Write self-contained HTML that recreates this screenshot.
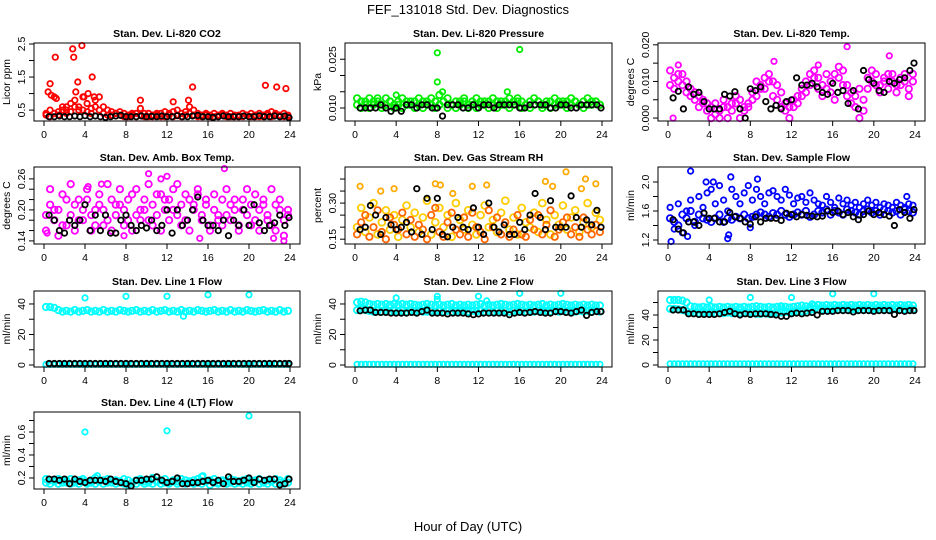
<!DOCTYPE html>
<html><head><meta charset="utf-8"><style>
html,body{margin:0;padding:0;background:#fff;}
svg{display:block;font-family:"Liberation Sans",Arial,sans-serif;}
</style></head><body>
<svg id="chart" width="936" height="540" viewBox="0 0 936 540" xmlns="http://www.w3.org/2000/svg">
<text x="468" y="14" font-size="13" text-anchor="middle">FEF_131018  Std. Dev. Diagnostics</text>
<text x="468" y="531" font-size="13" text-anchor="middle">Hour of Day (UTC)</text>
</svg>
<script>
const hrs=[0.2,0.6,1.0,1.4,1.8,2.2,2.6,3.0,3.4,3.8,4.2,4.6,5.0,5.4,5.8,6.2,6.6,7.0,7.4,7.8,8.2,8.6,9.0,9.4,9.8,10.2,10.6,11.0,11.4,11.8,12.2,12.6,13.0,13.4,13.8,14.2,14.6,15.0,15.4,15.8,16.2,16.6,17.0,17.4,17.8,18.2,18.6,19.0,19.4,19.8,20.2,20.6,21.0,21.4,21.8,22.2,22.6,23.0,23.4,23.8];
const hrsK=[0.5,1,1.5,2,2.5,3,3.5,4,4.5,5,5.5,6,6.5,7,7.5,8,8.5,9,9.5,10,10.5,11,11.5,12,12.5,13,13.5,14,14.5,15,15.5,16,16.5,17,17.5,18,18.5,19,19.5,20,20.5,21,21.5,22,22.5,23,23.5,23.9];
const xTicks=[0,4,8,12,16,20,24];

const co2A=[0.4,0.5,0.9,0.45,0.6,0.5,0.7,0.8,0.6,0.9,0.7,0.55,0.8,0.9,0.6,0.5,0.45,0.4,0.45,0.4,0.35,0.4,0.4,0.55,0.4,0.4,0.35,0.4,0.4,0.45,0.4,0.45,0.5,0.4,0.45,0.6,0.5,0.4,0.35,0.4,0.35,0.4,0.35,0.4,0.35,0.4,0.35,0.35,0.4,0.35,0.4,0.35,0.4,0.35,0.4,0.45,0.4,0.35,0.4,0.35];
const co2B=[0.35,0.3,0.4,0.35,0.5,0.4,0.45,0.6,0.5,0.5,0.45,0.4,0.6,0.5,0.4,0.35,0.35,0.4,0.35,0.3,0.3,0.35,0.3,0.35,0.3,0.3,0.3,0.35,0.3,0.3,0.35,0.3,0.35,0.3,0.35,0.4,0.35,0.3,0.3,0.35,0.3,0.3,0.3,0.35,0.3,0.3,0.3,0.3,0.3,0.35,0.3,0.3,0.3,0.3,0.35,0.3,0.35,0.3,0.3,0.3];
const co2OutX=[0.4,0.6,0.7,1.1,1.2,2.8,2.9,3.3,3.7,3.9,4.3,4.7,4.9,9.4,12.6,14.1,14.5,21.6,22.7,23.6,2.2,3.1];
const co2OutY=[1.05,1.3,0.95,2.1,0.85,2.35,2.1,1.35,2.45,0.9,1.0,1.5,0.9,0.8,0.75,0.8,1.2,1.25,1.2,1.15,0.6,1.05];
const co2K=[0.3,0.3,0.32,0.3,0.3,0.32,0.3,0.33,0.3,0.32,0.3,0.28,0.3,0.32,0.34,0.3,0.3,0.3,0.32,0.3,0.31,0.3,0.32,0.3,0.3,0.33,0.3,0.3,0.32,0.34,0.3,0.3,0.28,0.3,0.32,0.3,0.3,0.3,0.32,0.3,0.3,0.33,0.3,0.3,0.32,0.3,0.32,0.27];

const prA=[0.013,0.012,0.011,0.013,0.012,0.012,0.011,0.013,0.012,0.011,0.012,0.013,0.012,0.011,0.012,0.013,0.012,0.011,0.013,0.012,0.014,0.012,0.013,0.011,0.012,0.012,0.013,0.011,0.012,0.013,0.012,0.011,0.012,0.013,0.012,0.012,0.011,0.013,0.012,0.013,0.012,0.011,0.012,0.013,0.012,0.011,0.012,0.012,0.013,0.011,0.012,0.012,0.013,0.012,0.011,0.012,0.013,0.012,0.012,0.011];
const prB=[0.011,0.010,0.012,0.010,0.011,0.013,0.010,0.011,0.012,0.010,0.011,0.010,0.011,0.012,0.010,0.011,0.010,0.012,0.011,0.010,0.011,0.012,0.010,0.011,0.010,0.011,0.012,0.010,0.011,0.010,0.011,0.012,0.010,0.011,0.010,0.011,0.012,0.010,0.011,0.012,0.010,0.011,0.010,0.011,0.012,0.010,0.011,0.010,0.011,0.012,0.011,0.010,0.011,0.012,0.011,0.010,0.011,0.011,0.012,0.011];
const prOutX=[8.0,8.0,16.0,4.0,14.8,8.5];
const prOutY=[0.027,0.018,0.028,0.014,0.015,0.015];
const prK=[0.010,0.010,0.010,0.010,0.011,0.010,0.009,0.010,0.009,0.011,0.011,0.010,0.011,0.011,0.010,0.010,0.0075,0.011,0.011,0.011,0.010,0.010,0.011,0.010,0.011,0.011,0.010,0.011,0.011,0.011,0.011,0.010,0.010,0.011,0.011,0.011,0.011,0.010,0.010,0.011,0.011,0.010,0.010,0.011,0.011,0.011,0.011,0.010];

const tpA=[0.013,0.011,0.012,0.009,0.010,0.008,0.007,0.006,0.005,0.004,0.003,0.004,0.002,0.005,0.003,0.004,0.006,0.005,0.003,0.004,0.007,0.010,0.008,0.011,0.012,0.010,0.009,0.007,0.004,0.003,0.005,0.006,0.008,0.010,0.012,0.013,0.011,0.009,0.008,0.010,0.012,0.014,0.013,0.009,0.007,0.006,0.008,0.005,0.011,0.010,0.012,0.009,0.011,0.012,0.010,0.009,0.011,0.012,0.008,0.010];
const tpB=[0.009,0.008,0.010,0.012,0.007,0.006,0.005,0.003,0.004,0.002,0,0.001,0,0.003,0,0.002,0.004,0,0.002,0.003,0.005,0.006,0.009,0.008,0.010,0.006,0.005,0.003,0.002,0,0.003,0.004,0.006,0.007,0.009,0.011,0.008,0.006,0.012,0.007,0.005,0.011,0.009,0.006,0.004,0.003,0,0.002,0.008,0.013,0.009,0.007,0.010,0.008,0.012,0.007,0.009,0.010,0.006,0.012];
const tpOutX=[0.5,10.3,17.4,21.5,1.0,14.6];
const tpOutY=[0,0.0155,0.0195,0.017,0.0145,0.0145];
const tpK=[0.0055,0.0073,0.0025,0.0085,0.0065,0.007,0.0045,0.0025,0.0025,0.0025,0.0065,0.006,0.0072,0.0025,0,0.008,0.0075,0.0085,0.0045,0.0025,0.0035,0.0025,0.0045,0.005,0.011,0.009,0.009,0.0095,0.0085,0.007,0.0065,0.0095,0.007,0.0075,0.004,0.0075,0.0025,0.013,0.0105,0.0095,0.0075,0.007,0.01,0.0095,0.0105,0.011,0.013,0.015];

const amA=[0.19,0.21,0.18,0.2,0.17,0.22,0.19,0.21,0.18,0.2,0.22,0.19,0.17,0.21,0.2,0.18,0.22,0.19,0.21,0.2,0.18,0.23,0.19,0.2,0.22,0.18,0.21,0.19,0.23,0.2,0.22,0.24,0.19,0.21,0.18,0.22,0.2,0.23,0.19,0.21,0.17,0.2,0.18,0.22,0.19,0.21,0.2,0.17,0.22,0.19,0.21,0.18,0.2,0.22,0.19,0.17,0.21,0.2,0.18,0.19];
const amB=[0.16,0.24,0.2,0.15,0.23,0.17,0.25,0.16,0.22,0.18,0.24,0.16,0.2,0.23,0.17,0.25,0.16,0.21,0.24,0.17,0.22,0.16,0.24,0.18,0.2,0.25,0.17,0.23,0.16,0.22,0.18,0.2,0.25,0.17,0.23,0.16,0.21,0.24,0.18,0.22,0.16,0.23,0.19,0.17,0.24,0.18,0.22,0.16,0.2,0.24,0.17,0.23,0.16,0.21,0.18,0.24,0.16,0.22,0.15,0.2];
const amOutX=[10.2,12.0,17.6,11.4,5.6,22.4,23.4,15.2,7.8,0.3,4.3];
const amOutY=[0.27,0.265,0.28,0.26,0.25,0.145,0.14,0.145,0.15,0.155,0.245];
const amK=[0.19,0.18,0.16,0.155,0.18,0.17,0.18,0.21,0.16,0.19,0.16,0.19,0.155,0.155,0.18,0.19,0.17,0.16,0.17,0.165,0.18,0.16,0.17,0.2,0.155,0.2,0.17,0.18,0.2,0.225,0.18,0.17,0.17,0.16,0.18,0.15,0.18,0.17,0.2,0.17,0.21,0.175,0.16,0.17,0.175,0.19,0.17,0.185];

const rhA=[0.2,0.28,0.18,0.24,0.3,0.17,0.22,0.27,0.19,0.25,0.16,0.23,0.29,0.2,0.26,0.18,0.24,0.31,0.17,0.22,0.28,0.2,0.25,0.16,0.3,0.23,0.19,0.27,0.21,0.17,0.25,0.29,0.2,0.23,0.18,0.26,0.31,0.19,0.24,0.17,0.28,0.22,0.2,0.26,0.18,0.3,0.23,0.17,0.25,0.21,0.29,0.19,0.24,0.27,0.18,0.22,0.3,0.2,0.26,0.23];
const rhB=[0.17,0.22,0.25,0.16,0.2,0.27,0.18,0.15,0.24,0.21,0.19,0.26,0.17,0.23,0.16,0.21,0.19,0.15,0.25,0.28,0.18,0.16,0.22,0.26,0.19,0.17,0.24,0.16,0.26,0.2,0.18,0.15,0.27,0.2,0.24,0.17,0.22,0.16,0.19,0.25,0.17,0.16,0.23,0.19,0.25,0.17,0.21,0.27,0.16,0.19,0.22,0.24,0.17,0.2,0.16,0.24,0.19,0.17,0.21,0.18];
const rhOutX=[0.5,2.5,3.8,7.8,8.3,9.5,11.4,12.8,18.5,20.5,22.4,23.4,22.0,19.2];
const rhOutY=[0.37,0.35,0.36,0.38,0.375,0.34,0.37,0.375,0.39,0.43,0.4,0.38,0.36,0.37];
const rhK=[0.19,0.2,0.29,0.25,0.17,0.24,0.21,0.19,0.2,0.22,0.18,0.36,0.17,0.32,0.19,0.32,0.17,0.16,0.2,0.24,0.2,0.19,0.28,0.2,0.17,0.3,0.2,0.18,0.21,0.17,0.17,0.22,0.19,0.25,0.34,0.24,0.19,0.31,0.2,0.2,0.2,0.33,0.24,0.2,0.23,0.21,0.27,0.2];

const sfA=[1.5,1.45,1.4,1.55,1.5,1.6,1.45,1.55,1.5,1.48,1.45,1.5,1.55,1.45,1.5,1.48,1.52,1.5,1.55,1.5,1.52,1.55,1.58,1.55,1.52,1.57,1.55,1.6,1.55,1.52,1.55,1.58,1.55,1.6,1.52,1.55,1.6,1.58,1.62,1.55,1.6,1.58,1.55,1.62,1.6,1.58,1.55,1.6,1.62,1.58,1.6,1.55,1.62,1.6,1.58,1.6,1.55,1.62,1.6,1.58];
const sfB=[1.65,1.35,1.7,1.3,1.6,1.75,1.4,1.8,1.65,1.85,1.9,1.7,1.95,1.75,1.6,1.9,1.8,1.7,1.85,1.95,1.75,1.9,1.8,1.7,1.85,1.88,1.8,1.75,1.9,1.82,1.7,1.78,1.8,1.72,1.85,1.75,1.7,1.68,1.8,1.72,1.65,1.78,1.7,1.75,1.68,1.72,1.65,1.7,1.75,1.68,1.72,1.65,1.7,1.68,1.65,1.72,1.68,1.65,1.7,1.68];
const sfOutX=[0.3,2.2,6.1,8.7,5.8,5.9,1.9,8.0,4.4,3.7,23.2];
const sfOutY=[1.18,2.15,2.07,2.04,1.22,1.27,1.25,1.37,2.0,2.0,1.8];
const sfK=[1.48,1.35,1.3,1.45,1.45,1.4,1.57,1.5,1.5,1.45,1.45,1.58,1.52,1.5,1.45,1.42,1.52,1.45,1.5,1.5,1.5,1.47,1.57,1.55,1.52,1.55,1.54,1.53,1.52,1.53,1.6,1.58,1.6,1.55,1.58,1.52,1.48,1.55,1.6,1.55,1.58,1.55,1.53,1.4,1.62,1.58,1.5,1.62];

const l1A=[38,38,37.5,36,35,35.5,35,36,35,35.5,36,35,35.5,35,36,35,35.5,35,36,35.5,35,35.5,36,35,35.5,35,36,35,35.5,36,35,35.5,35,36,35,35.5,35,36,35.5,35,35.5,36,35,35.5,35,36,35,35.5,35,36,35.5,35,35.5,36,35,35.5,35,36,35,35.5];
const l1Z=[0.4,0.4,0.4,0.4,0.4,0.4,0.4,0.4,0.4,0.4,0.4,0.4,0.4,0.4,0.4,0.4,0.4,0.4,0.4,0.4,0.4,0.4,0.4,0.4,0.4,0.4,0.4,0.4,0.4,0.4,0.4,0.4,0.4,0.4,0.4,0.4,0.4,0.4,0.4,0.4,0.4,0.4,0.4,0.4,0.4,0.4,0.4,0.4,0.4,0.4,0.4,0.4,0.4,0.4,0.4,0.4,0.4,0.4,0.4,0.4];
const l1OutX=[4,8,12,16,20,13.6];
const l1OutY=[44,45,45,46,46,32];
const l1K=[1,1,1,1,1,1,1,1,1,1,1,1,1,1,1,1,1,1,1,1,1,1,1,1,1,1,1,1,1,1,1,1,1,1,1,1,1,1,1,1,1,1,1,1,1,1,1,1];

const l2A=[41,41.5,41,40,39.5,40,39.5,40,39.5,40,39.5,40,39.5,40,39.5,39,39.5,40,39.5,39,39.5,39,39.5,40,39,39.5,39,39.5,39,39.5,40,39,39.5,39,39.5,40,39.5,39,39.5,40,39.5,39,39.5,39,39.5,40,39,39.5,39,39.5,40,39.5,39,39.5,39,39.5,39,39.5,39,39];
const l2B=[36,36.5,36,35.5,35,35.5,35,35.5,35,35.5,35,35.5,35,35.5,35,35.5,35,35,35.5,35,35.5,35,35.5,35,35.5,35,35.5,35,35.5,35,35.5,35,35.5,35,35.5,35,35.5,35,35.5,35,35.5,35,35.5,35,35.5,35,35.5,35,35.5,35,35.5,35,35.5,35,35.5,35,35.5,35,35.5,35];
const l2Z=[0.5,0.5,0.5,0.5,0.5,0.5,0.5,0.5,0.5,0.5,0.5,0.5,0.5,0.5,0.5,0.5,0.5,0.5,0.5,0.5,0.5,0.5,0.5,0.5,0.5,0.5,0.5,0.5,0.5,0.5,0.5,0.5,0.5,0.5,0.5,0.5,0.5,0.5,0.5,0.5,0.5,0.5,0.5,0.5,0.5,0.5,0.5,0.5,0.5,0.5,0.5,0.5,0.5,0.5,0.5,0.5,0.5,0.5,0.5,0.5];
const l2OutX=[4,8,8,12,16,20,12.8];
const l2OutY=[44,45,43,45,47,47,42];
const l2K=[35.5,36,36,34.5,34.5,34.5,34,34,34,34,34.5,34,35,36,34,34,34,33.5,34,34,34,33.5,33,33.5,34,34,34,34,34,33,34,34.5,34,34.5,35,34.5,34,34,35,35,34.5,34,35,36,32.5,34.5,35,35];

const l3A=[52,52,52,51.5,50,47,46.5,46,46.5,46,46.5,46,46.5,46,46.5,46,46.5,46,46.5,46,46.5,47,46.5,46,46.5,46,46.5,47,46.5,46,46.5,47,47.5,47,46.5,47.5,48,47.5,48,47.5,48,47.5,48,47.5,48,47.5,48,47.5,48,47.5,48,47.5,48,47.5,48,47.5,48,47.5,48,47.5];
const l3B=[45,45,44.5,44,43,42,42,41.5,42,41.5,42,41.5,42,41.5,42,41.5,42,41.5,42,41.5,41.5,41,41,41.5,41,41,42,42,42.5,42,42.5,43,43,43.5,44,44.5,44.5,44.5,44.5,44.5,44.5,44.5,44.5,44.5,44.5,44.5,44.5,44.5,44.5,44.5,44.5,44.5,44.5,44.5,44.5,44.5,44.5,44.5,44.5,44.5];
const l3Z=[1,1,1,1,1,1,1,1,1,1,1,1,1,1,1,1,1,1,1,1,1,1,1,1,1,1,1,1,1,1,1,1,1,1,1,1,1,1,1,1,1,1,1,1,1,1,1,1,1,1,1,1,1,1,1,1,1,1,1,1,1];
const l3OutX=[4,8,12,16,20,14,11];
const l3OutY=[52,54,54,57,57,49,47];
const l3K=[44,44,44,41,41,40.5,40.5,40.5,40.5,41,42,43,41,40,41,40.5,41,41,41,40.5,40,39,39,41,41.5,41,41.5,42,40,43,43,43,43.5,43.5,43.5,42.5,43.5,43.5,43.5,43,43.5,43.5,43.5,40.5,43.5,43,43.5,43.5];

const l4A=[0.19,0.18,0.17,0.19,0.18,0.16,0.19,0.17,0.18,0.19,0.16,0.18,0.2,0.17,0.18,0.19,0.16,0.18,0.17,0.19,0.18,0.16,0.18,0.19,0.17,0.18,0.2,0.17,0.18,0.19,0.16,0.18,0.17,0.19,0.18,0.16,0.18,0.19,0.21,0.17,0.18,0.19,0.16,0.18,0.17,0.19,0.18,0.16,0.18,0.19,0.17,0.18,0.19,0.16,0.18,0.17,0.19,0.18,0.16,0.19];
const l4B=[0.16,0.15,0.18,0.15,0.16,0.18,0.15,0.16,0.15,0.17,0.15,0.16,0.15,0.17,0.15,0.16,0.18,0.15,0.16,0.15,0.14,0.16,0.15,0.17,0.15,0.16,0.15,0.17,0.15,0.16,0.15,0.17,0.15,0.16,0.15,0.17,0.15,0.16,0.15,0.17,0.14,0.16,0.15,0.17,0.15,0.16,0.15,0.17,0.15,0.16,0.15,0.17,0.15,0.16,0.15,0.17,0.15,0.16,0.15,0.16];
const l4OutX=[4,12,20,5.2,15.5];
const l4OutY=[0.6,0.61,0.74,0.22,0.22];
const l4K=[0.19,0.19,0.18,0.19,0.15,0.19,0.17,0.16,0.18,0.18,0.18,0.17,0.19,0.17,0.16,0.15,0.13,0.18,0.18,0.19,0.19,0.21,0.18,0.16,0.17,0.2,0.15,0.15,0.16,0.16,0.17,0.18,0.16,0.18,0.15,0.21,0.17,0.17,0.18,0.2,0.16,0.19,0.18,0.19,0.19,0.14,0.15,0.19];

const svg=document.getElementById('chart');
const NS='http://www.w3.org/2000/svg';
function mk(tag,attrs,parent){const e=document.createElementNS(NS,tag);for(const k in attrs)e.setAttribute(k,attrs[k]);(parent||svg).appendChild(e);return e;}

const colL=[34,345,658],colR=[300,612,925],rowT=[43,167,291,412],rowB=[121,244,367,489];

function panel(o){
  const l=colL[o.c],r=colR[o.c],t=rowT[o.r],b=rowB[o.r];
  const g=mk('g',{});
  
  
  const xs=v=>(l+10)+(r-l-20)*v/24;
  const ys=v=>b-(v-o.y0)/(o.y1-o.y0)*(b-t);
  const ti=mk('text',{x:(l+r)/2,y:t-6,'font-size':10.5,'font-weight':'bold','text-anchor':'middle'},g);
  ti.textContent=o.title;
  
  
  const yt=mk('text',{x:0,y:0,'font-size':10.5,'text-anchor':'middle',transform:`translate(${l-24},${(t+b)/2}) rotate(-90)`},g);
  yt.textContent=o.ylab;
  
  
  const xa=mk('g',{stroke:'#000','stroke-width':1},g);
  
  
  mk('line',{x1:xs(0),x2:xs(24),y1:b,y2:b},xa);
  xTicks.forEach(v=>{
    mk('line',{x1:xs(v),x2:xs(v),y1:b,y2:b+5},xa);
    const tx=mk('text',{x:xs(v),y:b+17,'font-size':10.5,'text-anchor':'middle',stroke:'none',fill:'#000'},xa);
    tx.textContent=v;
  });
  const ya=mk('g',{stroke:'#000','stroke-width':1},g);
  
  
  mk('line',{x1:l,x2:l,y1:ys(o.ticks[0]),y2:ys(o.ticks[o.ticks.length-1])},ya);
  o.ticks.forEach((v,i)=>{
    mk('line',{x1:l-5,x2:l,y1:ys(v),y2:ys(v)},ya);
    if(o.labels[i]){
      const tx=mk('text',{x:0,y:0,'font-size':10.5,'text-anchor':'middle',stroke:'none',fill:'#000',transform:`translate(${l-9},${ys(v)}) rotate(-90)`},ya);
      tx.textContent=o.labels[i];
    }
  });
  const pg=mk('g',{fill:'none','stroke-width':1.8},g);
  
  
  o.series.forEach(s=>{
    const n=Math.min(s.x.length,s.y.length);
    for(let i=0;i<n;i++){
      mk('circle',{cx:xs(s.x[i]).toFixed(1),cy:ys(s.y[i]).toFixed(1),r:s.rad||2.7,stroke:s.col},pg);
    }
  });
  const box=mk('rect',{x:l,y:t,width:r-l,height:b-t,fill:'none',stroke:'#000','stroke-width':1},g);
  
  
}

panel({name:'co2',c:0,r:0,title:'Stan. Dev. Li-820 CO2',ylab:'Licor ppm',y0:0.17,y1:2.53,ticks:[0.5,1,1.5,2,2.5],labels:['0.5','','1.5','','2.5'],
  series:[{x:hrs,y:co2A,col:'#ff0000'},{x:hrs,y:co2B,col:'#ff0000'},{x:co2OutX,y:co2OutY,col:'#ff0000'},{x:hrsK,y:co2K,col:'#000'}]});
panel({name:'pressure',c:1,r:0,title:'Stan. Dev. Li-820 Pressure',ylab:'kPa',y0:0.006,y1:0.030,ticks:[0.010,0.015,0.020,0.025],labels:['0.010','','','0.025'],
  series:[{x:hrs,y:prA,col:'#00ee00',rad:3.2},{x:hrs,y:prB,col:'#00ee00',rad:3.2},{x:prOutX,y:prOutY,col:'#00ee00'},{x:hrsK,y:prK,col:'#000'}]});
panel({name:'li820-temp',c:2,r:0,title:'Stan. Dev. Li-820 Temp.',ylab:'degrees C',y0:-0.0008,y1:0.0205,ticks:[0,0.005,0.010,0.015,0.020],labels:['0.000','','0.010','','0.020'],
  series:[{x:hrs,y:tpA,col:'#ff00ff',rad:3.2},{x:hrs,y:tpB,col:'#ff00ff',rad:3.2},{x:tpOutX,y:tpOutY,col:'#ff00ff'},{x:hrsK,y:tpK,col:'#000'}]});
panel({name:'amb-box-temp',c:0,r:1,title:'Stan. Dev. Amb. Box Temp.',ylab:'degrees C',y0:0.134,y1:0.283,ticks:[0.14,0.16,0.18,0.20,0.22,0.24,0.26],labels:['0.14','','','0.20','','','0.26'],
  series:[{x:hrs,y:amA,col:'#ff00ff',rad:3.2},{x:hrs,y:amB,col:'#ff00ff',rad:3.2},{x:amOutX,y:amOutY,col:'#ff00ff'},{x:hrsK,y:amK,col:'#000'}]});
panel({name:'gas-stream-rh',c:1,r:1,title:'Stan. Dev. Gas Stream RH',ylab:'percent',y0:0.13,y1:0.45,ticks:[0.15,0.20,0.25,0.30,0.35,0.40],labels:['0.15','','','0.30','',''],
  series:[{x:hrs,y:rhA,col:'#ffcc00',rad:3.4},{x:hrs,y:rhB,col:'#ff6600',rad:3.2},{x:rhOutX,y:rhOutY,col:'#ffaa00'},{x:hrsK,y:rhK,col:'#000'}]});
panel({name:'sample-flow',c:2,r:1,title:'Stan. Dev. Sample Flow',ylab:'ml/min',y0:1.145,y1:2.207,ticks:[1.2,1.4,1.6,1.8,2.0],labels:['1.2','','1.6','','2.0'],
  series:[{x:hrs,y:sfA,col:'#0000ff',rad:3.2},{x:hrs,y:sfB,col:'#0000ff'},{x:sfOutX,y:sfOutY,col:'#0000ff'},{x:hrsK,y:sfK,col:'#000'}]});
panel({name:'line1-flow',c:0,r:2,title:'Stan. Dev. Line 1 Flow',ylab:'ml/min',y0:-1.3,y1:48.5,ticks:[0,10,20,30,40],labels:['0','','20','','40'],
  series:[{x:hrs,y:l1A,col:'#00ffff',rad:3.2},{x:hrs,y:l1Z,col:'#00ffff'},{x:l1OutX,y:l1OutY,col:'#00ffff'},{x:hrsK,y:l1K,col:'#000'}]});
panel({name:'line2-flow',c:1,r:2,title:'Stan. Dev. Line 2 Flow',ylab:'ml/min',y0:-1.3,y1:48.5,ticks:[0,10,20,30,40],labels:['0','','20','','40'],
  series:[{x:hrs,y:l2A,col:'#00ffff',rad:3.2},{x:hrs,y:l2B,col:'#00ffff',rad:3.2},{x:hrs,y:l2Z,col:'#00ffff'},{x:l2OutX,y:l2OutY,col:'#00ffff'},{x:hrsK,y:l2K,col:'#000'}]});
panel({name:'line3-flow',c:2,r:2,title:'Stan. Dev. Line 3 Flow',ylab:'ml/min',y0:-1.6,y1:59.2,ticks:[0,10,20,30,40,50],labels:['0','','20','','40',''],
  series:[{x:hrs,y:l3A,col:'#00ffff',rad:3.2},{x:hrs,y:l3B,col:'#00ffff',rad:3.2},{x:hrs,y:l3Z,col:'#00ffff'},{x:l3OutX,y:l3OutY,col:'#00ffff'},{x:hrsK,y:l3K,col:'#000'}]});
panel({name:'line4-flow',c:0,r:3,title:'Stan. Dev. Line 4 (LT) Flow',ylab:'ml/min',y0:0.104,y1:0.774,ticks:[0.2,0.3,0.4,0.5,0.6,0.7],labels:['0.2','','0.4','','0.6',''],
  series:[{x:hrs,y:l4A,col:'#00ffff',rad:3.2},{x:hrs,y:l4B,col:'#00ffff',rad:3.2},{x:l4OutX,y:l4OutY,col:'#00ffff'},{x:hrsK,y:l4K,col:'#000'}]});
</script>
</body></html>
